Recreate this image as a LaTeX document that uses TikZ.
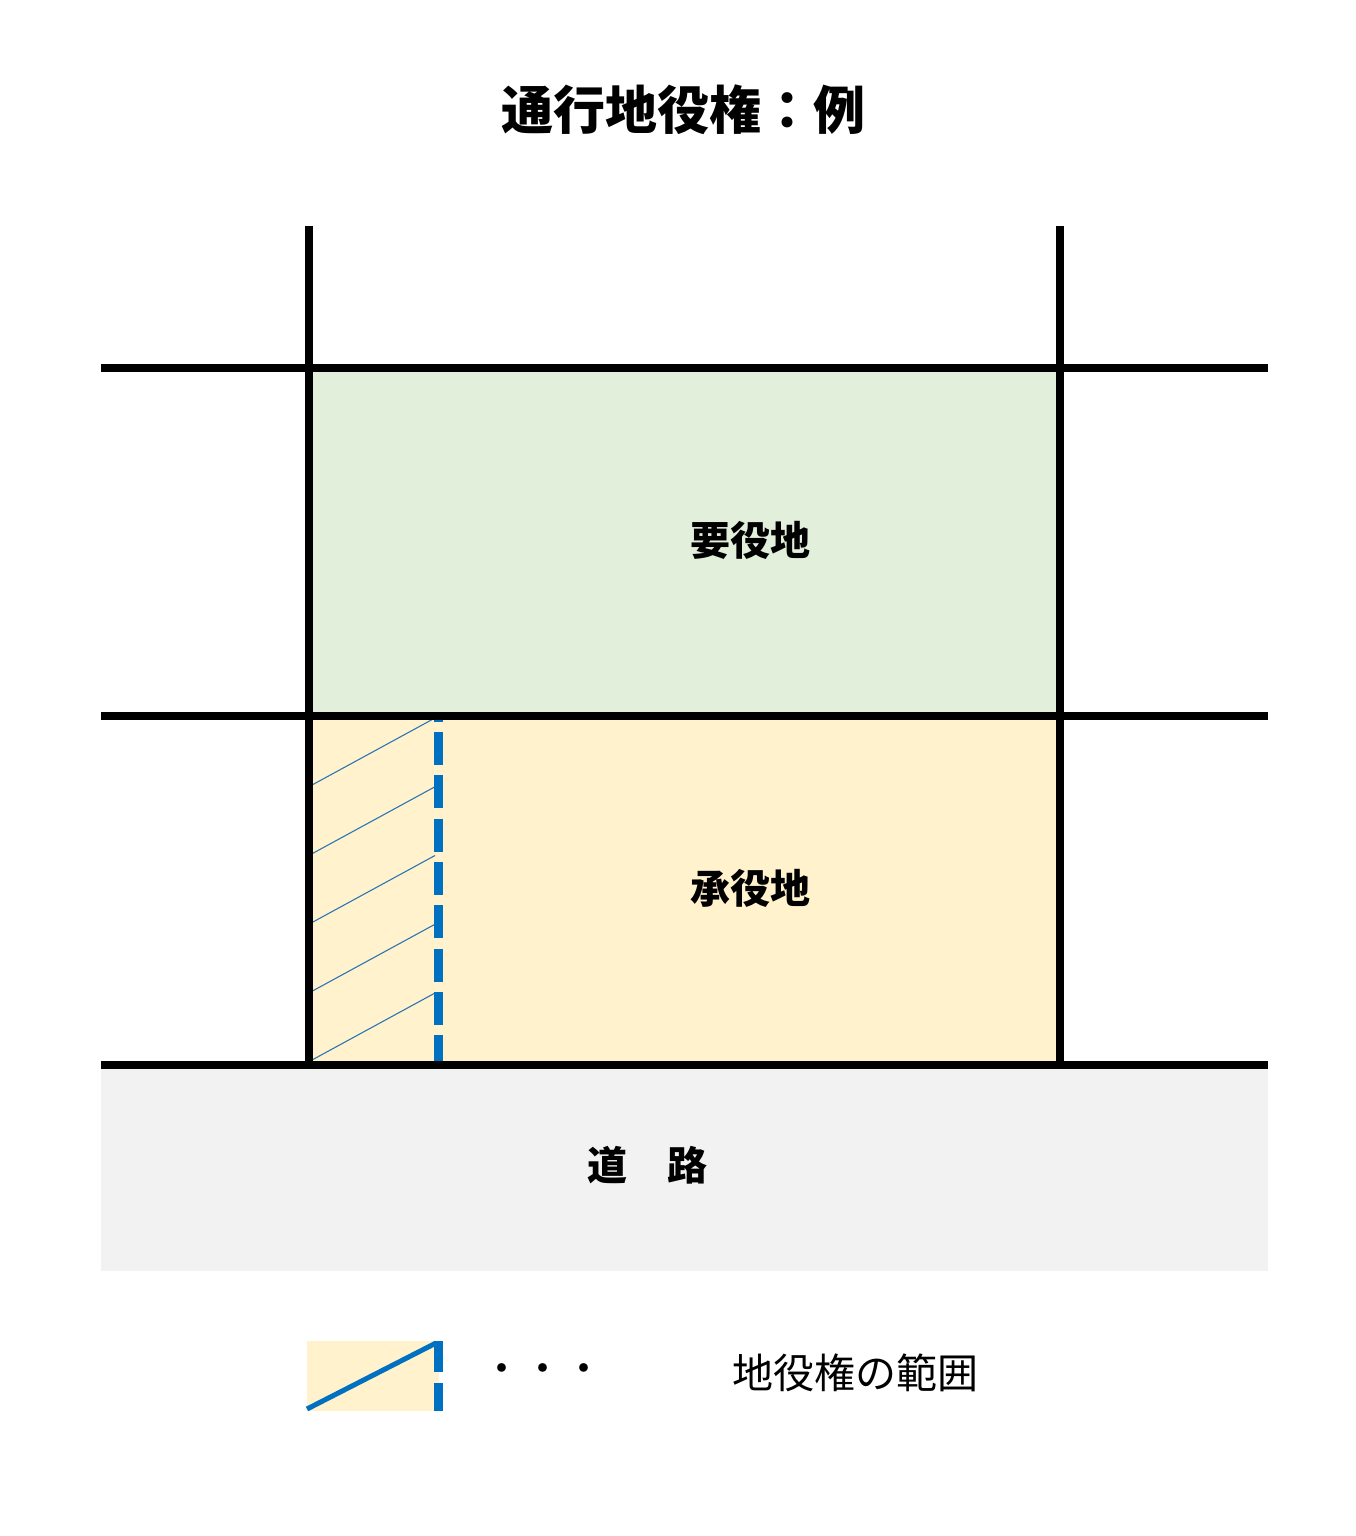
\documentclass[tikz,border=0pt]{standalone}
\usepackage{fontspec}
\newfontfamily\jp{Noto Sans CJK JP}
\definecolor{greenfill}{HTML}{E2EFDA}
\definecolor{yellowfill}{HTML}{FFF2CC}
\definecolor{roadfill}{HTML}{F2F2F2}
\definecolor{easeblue}{HTML}{0070C0}
\definecolor{hatchblue}{HTML}{2E75B6}
\tikzset{
  boundary/.style={line width=8pt, black},
  hatchline/.style={line width=1.1pt, hatchblue},
  edgedash/.style={line width=8.5pt, easeblue, dash pattern=on 33pt off 10.3pt, dash phase=31.3pt},
  legdash/.style={line width=8.5pt, easeblue},
  boldlabel/.style={font=\jp\bfseries\fontsize{40}{48}\selectfont, inner sep=0pt},
  titlelabel/.style={font=\jp\bfseries\fontsize{52}{60}\selectfont, inner sep=0pt},
  legendlabel/.style={font=\jp\fontsize{41}{48}\selectfont, inner sep=0pt},
}
\begin{document}
\begin{tikzpicture}[x=1pt,y=-1pt]
\useasboundingbox (0,0) rectangle (1355,1536);
\fill[white] (0,0) rectangle (1355,1536);
% regions
\fill[greenfill] (309,368) rectangle (1060,716);
\fill[yellowfill] (309,716) rectangle (1060,1065);
\fill[roadfill] (101,1065) rectangle (1268,1271);
% hatching
\foreach \k in {0,...,4} {
  \pgfmathsetmacro{\yl}{1060-68.75*(4-\k)}
  \pgfmathsetmacro{\yr}{\yl-67}
  \draw[hatchline] (312,\yl) -- (435,\yr);
}
% easement edge
\coordinate (ea) at (438.5,720);
\coordinate (eb) at (438.5,1061);
\draw[edgedash] (ea) -- (eb);
% boundaries
\coordinate (h1l) at (101,368); \coordinate (h1r) at (1268,368);
\coordinate (h2l) at (101,716); \coordinate (h2r) at (1268,716);
\coordinate (h3l) at (101,1065); \coordinate (h3r) at (1268,1065);
\coordinate (v1t) at (309,226); \coordinate (v1b) at (309,1065);
\coordinate (v2t) at (1060,226); \coordinate (v2b) at (1060,1065);
\draw[boundary] (h1l) -- (h1r);
\draw[boundary] (h2l) -- (h2r);
\draw[boundary] (h3l) -- (h3r);
\draw[boundary] (v1t) -- (v1b);
\draw[boundary] (v2t) -- (v2b);
% labels
\node[titlelabel] (title) at (683,110) {通行地役権：例};
\node[boldlabel] (dominant) at (750,540) {要役地};
\node[boldlabel] (servient) at (750,888) {承役地};
\node[boldlabel] (road) at (647,1165) {道　路};
% legend
\fill[yellowfill] (307,1341) rectangle (438.5,1411);
\coordinate (lga) at (307,1409);
\coordinate (lgb) at (436,1343);
\draw[line width=5pt, easeblue] (lga) -- (lgb);
\coordinate (ld1) at (438.5,1341); \coordinate (ld2) at (438.5,1372);
\coordinate (ld3) at (438.5,1383); \coordinate (ld4) at (438.5,1411);
\draw[legdash] (ld1) -- (ld2);
\draw[legdash] (ld3) -- (ld4);
\node[legendlabel] (dots) at (543,1374) {・・・};
\node[legendlabel, anchor=west] (legtext) at (732,1373) {地役権の範囲};
\end{tikzpicture}
\end{document}
